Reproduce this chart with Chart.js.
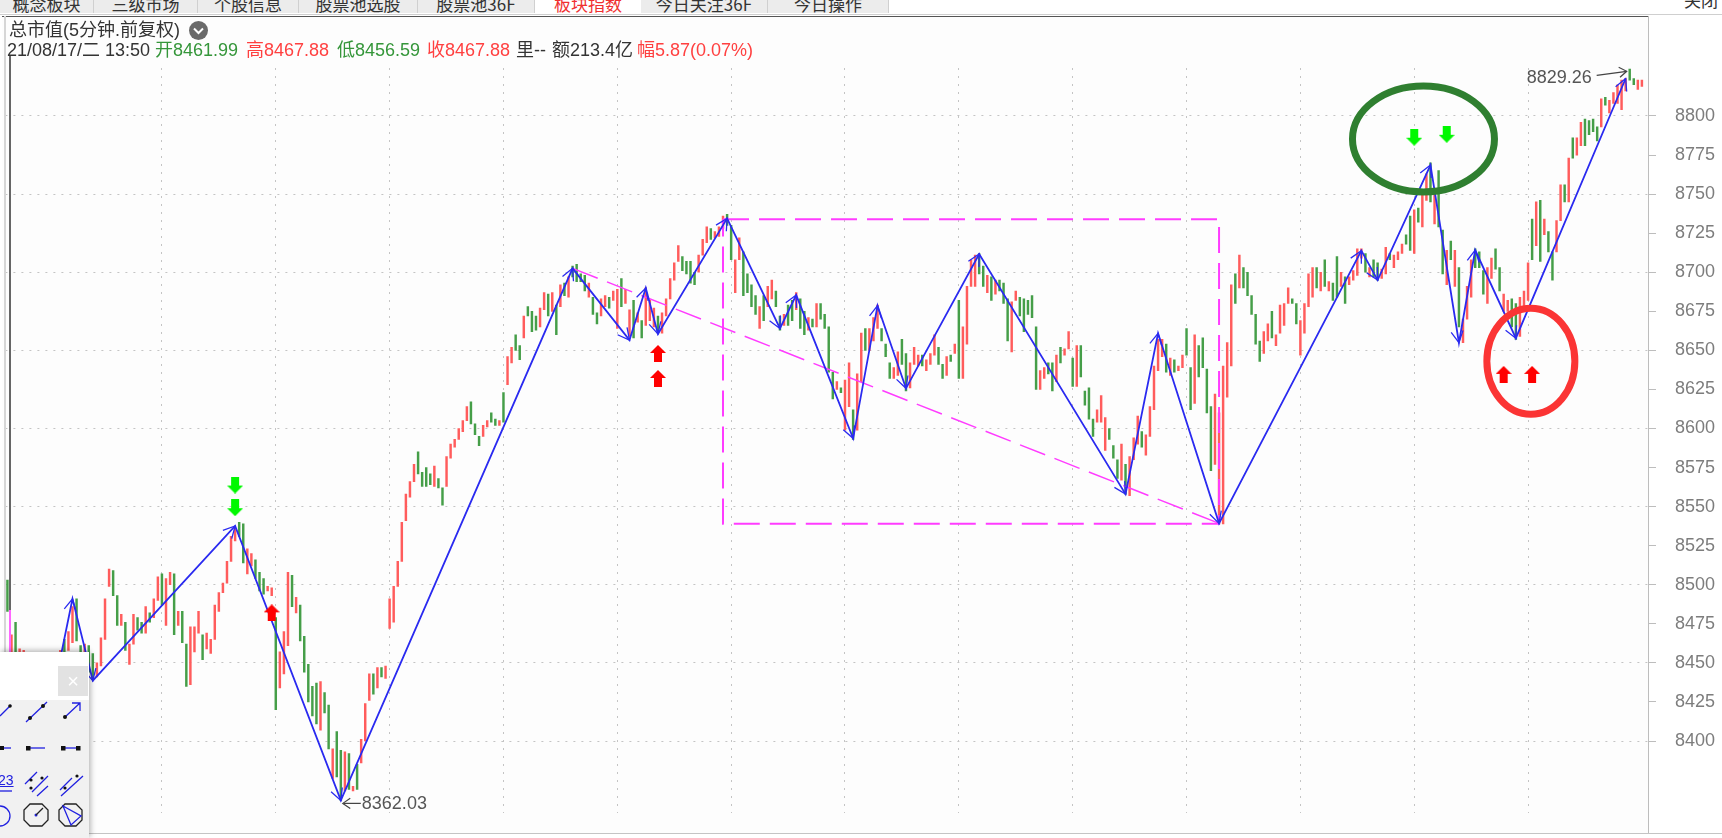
<!DOCTYPE html>
<html lang="zh"><head><meta charset="utf-8">
<script src="https://cdn.jsdelivr.net/npm/chart.js@4"></script>
<style>
html,body{margin:0;padding:0;background:#fff;width:1722px;height:838px;overflow:hidden;font-family:"Liberation Sans","Noto Sans CJK SC",sans-serif}
#wrap{position:relative;width:1722px;height:838px;overflow:hidden}
#plotbg{position:absolute;left:2px;top:16px;width:1646px;height:817px;background:#fdfdfd}
canvas{position:absolute;left:0;top:0}
.abs{position:absolute;white-space:nowrap}
#tabs{position:absolute;left:0;top:0;width:1722px;height:13px;overflow:hidden;background:#fff}
.tab{position:absolute;top:0;height:13px;background:#ececec;border-right:1px solid #d0d0d0;overflow:hidden;color:#333;font-size:17px;text-align:center;line-height:8px;font-family:"Noto Sans CJK SC",sans-serif}
.tab.on{background:#fff;color:#f03030;border-right:none}
.h{font-size:18px;line-height:20px;color:#333}
.g{color:#35963a}.r{color:#ff4040}
#panel{position:absolute;left:0;top:652px;width:89px;height:186px;background:#fff;box-shadow:0 -2px 6px rgba(0,0,0,.18),2px 0 6px rgba(0,0,0,.18)}
</style></head><body>
<div id="wrap">
<div id="plotbg"></div>
<canvas id="c" width="1722" height="838"></canvas>
<div id="tabs">
<div class="tab" style="left:0;width:93px">概念板块</div>
<div class="tab" style="left:94px;width:103px">三级市场</div>
<div class="tab" style="left:198px;width:100px">个股信息</div>
<div class="tab" style="left:299px;width:118px">股票池选股</div>
<div class="tab" style="left:418px;width:116px">股票池36F</div>
<div class="tab on" style="left:535px;width:106px">板块指数</div>
<div class="tab" style="left:641px;width:126px">今日关注36F</div>
<div class="tab" style="left:768px;width:120px">今日操作</div>
<div class="abs" style="left:1684px;top:-8px;font-size:17px;color:#333;line-height:20px">关闭</div>
</div>
<div class="abs" style="left:0;top:14px;width:1722px;height:1px;background:#cfcfcf"></div>
<div class="abs" style="left:2px;top:16px;width:1646px;height:1px;background:#555"></div>
<div class="abs" style="left:1648px;top:16px;width:1px;height:817px;background:#bdbdbd"></div>
<div class="abs" style="left:0;top:833px;width:1722px;height:1px;background:#c4c4c4"></div>
<div class="abs" style="left:4px;top:16px;width:2px;height:636px;background:#d6d6d6"></div>
<div class="abs" style="left:9px;top:55px;width:2px;height:555px;background:#666"></div>
<div class="abs" style="left:9px;top:610px;width:2px;height:43px;background:#ff66ff"></div>
<div class="abs h" style="left:9px;top:20px">总市值(5分钟.前复权)</div>
<svg class="abs" style="left:188px;top:20px" width="21" height="21"><circle cx="10.5" cy="10.5" r="9.5" fill="#6a6a6a"/><path d="M6 8.5l4.5 4.5 4.5-4.5" stroke="#fff" stroke-width="2" fill="none"/></svg>
<div class="abs h" style="left:7px;top:40px">21/08/17/二 13:50</div>
<div class="abs h g" style="left:155px;top:40px">开8461.99</div>
<div class="abs h r" style="left:246px;top:40px">高8467.88</div>
<div class="abs h g" style="left:337px;top:40px">低8456.59</div>
<div class="abs h r" style="left:427px;top:40px">收8467.88</div>
<div class="abs h" style="left:516px;top:40px">里--</div>
<div class="abs h" style="left:552px;top:40px">额213.4亿</div>
<div class="abs h r" style="left:637px;top:40px">幅5.87(0.07%)</div>
<div id="panel">
<div class="abs" style="left:0;top:48px;width:89px;height:138px;background:#f1f1f1"></div>
<div class="abs" style="left:58px;top:14px;width:30px;height:30px;background:#e2e2e2;color:#fff;font-size:20px;line-height:30px;text-align:center">×</div>
<svg class="abs" style="left:0;top:48px" width="89" height="138" stroke="#2020e0" fill="none" stroke-width="1.3">
<path d="M0 16L11 5"/><path d="M26 22L47 2"/><path d="M65 17L80 3M72 3h8v8"/>
<path d="M0 48h11"/><path d="M28 48h17"/><path d="M63 48h15"/>
<path d="M0 91h12"/><path d="M25 84L37 72M32 92L48 76M37 96L48 86"/><path d="M60 90L72 78M61 96L83 76"/>
<path d="M0 106a10 10 0 0 1 0 20"/>
<g fill="#111" stroke="none"><circle cx="10" cy="6" r="1.8"/><circle cx="30" cy="18" r="2"/><circle cx="43" cy="6" r="2"/><circle cx="65" cy="17" r="2"/>
<rect x="0" y="46" width="4" height="4"/><rect x="26" y="46" width="4.5" height="4.5"/><rect x="61" y="46" width="4.5" height="4.5"/><rect x="76" y="46" width="4.5" height="4.5"/>
<circle cx="31" cy="80" r="1.6"/><circle cx="42" cy="78" r="1.6"/><circle cx="31" cy="88" r="1.6"/><circle cx="65" cy="88" r="1.6"/><circle cx="77" cy="76" r="1.6"/><circle cx="36" cy="115" r="1.5" fill="#2020e0"/></g>
<g transform="translate(0,-11)"><path d="M30 115h12l6 6v10l-6 6H30l-6-6v-10zM36 126l7-7" stroke="#222"/>
<path d="M65 115h11l6 6v10l-6 6H65l-6-6v-10z" stroke="#222"/><path d="M63 117l18 10-10 9z"/></g>
</svg>
<div class="abs" style="left:-2px;top:120px;color:#2020e0;font-size:14px;text-decoration:underline">23</div>
</div>
</div>
<script>
const highs=[
8503,8468,8476,8459,8458,8456,8455,8454,8452,8453,
8455,8456,8456,8458,8465,8470,8486,8491,8461,8462,
8461,8456,8450,8466,8491,8510,8509,8493,8481,8476,
8462,8481,8479,8476,8486,8482,8491,8505,8507,8504,
8508,8507,8483,8483,8462,8473,8473,8483,8468,8469,
8465,8487,8495,8501,8515,8531,8536,8540,8539,8523,
8520,8516,8508,8504,8499,8498,8479,8457,8470,8508,
8506,8492,8487,8467,8449,8435,8437,8438,8431,8423,
8395,8406,8394,8393,8392,8371,8385,8401,8424,8443,
8443,8447,8447,8448,8491,8499,8515,8540,8558,8566,
8577,8585,8572,8575,8571,8576,8568,8562,8582,8590,
8593,8600,8605,8614,8617,8603,8595,8602,8605,8610,
8606,8605,8623,8646,8652,8660,8653,8672,8678,8675,
8672,8677,8687,8686,8687,8679,8692,8693,8697,8704,
8705,8699,8698,8693,8684,8674,8683,8685,8684,8688,
8689,8696,8689,8676,8682,8674,8669,8690,8682,8677,
8672,8674,8683,8696,8706,8717,8710,8707,8707,8700,
8711,8721,8729,8728,8726,8729,8736,8737,8730,8708,
8722,8713,8699,8692,8685,8678,8685,8691,8695,8688,
8672,8673,8679,8682,8687,8683,8675,8671,8670,8680,
8680,8673,8665,8636,8630,8626,8631,8642,8612,8635,
8661,8664,8664,8671,8679,8664,8654,8642,8639,8649,
8657,8648,8642,8652,8647,8647,8644,8648,8660,8652,
8641,8646,8647,8654,8682,8665,8691,8708,8711,8712,
8704,8698,8697,8695,8695,8693,8683,8681,8688,8684,
8683,8682,8685,8665,8637,8639,8642,8642,8647,8652,
8651,8662,8645,8653,8653,8624,8626,8606,8612,8621,
8607,8600,8589,8580,8590,8577,8582,8594,8608,8598,
8596,8614,8640,8657,8657,8654,8645,8644,8640,8647,
8664,8639,8660,8653,8658,8638,8614,8622,8610,8640,
8655,8692,8699,8711,8703,8700,8685,8673,8656,8662,
8667,8675,8660,8679,8680,8690,8683,8680,8669,8680,
8699,8703,8703,8700,8708,8694,8693,8710,8700,8697,
8697,8701,8715,8715,8712,8703,8708,8706,8702,8716,
8712,8711,8713,8718,8724,8736,8740,8741,8750,8763,
8770,8750,8765,8727,8714,8720,8714,8703,8670,8691,
8708,8715,8713,8701,8703,8709,8715,8703,8686,8682,
8683,8680,8684,8688,8706,8734,8745,8746,8734,8726,
8713,8733,8756,8756,8773,8786,8786,8796,8798,8797,
8798,8793,8811,8812,8810,8815,8820,8823,8824,8830,
8824,8823,8823];
const lows=[
8483,8455,8453,8453,8450,8448,8446,8445,8444,8445,
8447,8448,8449,8448,8453,8458,8463,8464,8453,8448,
8444,8440,8441,8448,8465,8499,8493,8474,8474,8458,
8449,8462,8471,8469,8469,8476,8479,8490,8487,8474,
8500,8468,8474,8463,8435,8436,8457,8469,8452,8459,
8456,8465,8483,8495,8501,8515,8528,8531,8514,8507,
8512,8504,8496,8494,8496,8493,8420,8434,8443,8461,
8486,8482,8464,8444,8425,8416,8411,8407,8418,8395,
8376,8377,8362,8368,8369,8368,8369,8386,8400,8426,
8430,8434,8441,8440,8472,8476,8499,8515,8541,8556,
8566,8571,8563,8563,8564,8563,8562,8551,8563,8581,
8588,8593,8598,8605,8603,8596,8589,8595,8601,8604,
8602,8602,8604,8628,8642,8650,8644,8658,8672,8662,
8663,8665,8676,8672,8675,8660,8678,8685,8684,8697,
8694,8694,8688,8684,8673,8667,8672,8678,8677,8682,
8664,8678,8680,8659,8658,8668,8658,8666,8669,8665,
8661,8661,8672,8683,8695,8707,8701,8699,8693,8692,
8700,8711,8719,8721,8722,8723,8728,8730,8708,8687,
8708,8685,8687,8678,8673,8664,8669,8678,8683,8678,
8663,8666,8666,8669,8676,8664,8660,8663,8665,8665,
8670,8664,8636,8619,8625,8623,8599,8614,8593,8599,
8630,8650,8650,8656,8664,8656,8646,8632,8632,8634,
8641,8624,8626,8641,8640,8640,8637,8641,8647,8641,
8632,8634,8643,8648,8632,8632,8654,8691,8691,8699,
8691,8687,8682,8686,8688,8680,8656,8649,8682,8672,
8662,8673,8671,8625,8625,8632,8635,8624,8630,8642,
8647,8651,8627,8627,8633,8615,8606,8595,8604,8604,
8586,8593,8581,8568,8567,8558,8557,8580,8590,8588,
8583,8595,8612,8637,8646,8636,8634,8636,8637,8639,
8647,8612,8616,8633,8639,8610,8573,8577,8539,8539,
8620,8640,8680,8690,8690,8685,8673,8654,8643,8648,
8656,8658,8653,8661,8666,8680,8680,8667,8647,8661,
8678,8684,8690,8688,8691,8688,8682,8684,8691,8680,
8692,8695,8698,8709,8700,8697,8697,8695,8696,8699,
8708,8703,8708,8712,8718,8714,8712,8732,8729,8746,
8745,8731,8729,8699,8692,8708,8691,8665,8655,8670,
8684,8703,8703,8686,8680,8696,8702,8688,8675,8675,
8665,8657,8659,8678,8682,8708,8717,8707,8724,8713,
8695,8713,8733,8745,8745,8773,8775,8781,8781,8788,
8790,8784,8793,8807,8802,8808,8808,8804,8816,8823,
8820,8817,8819];
const directions=("GRGRRGRGRG"+"RRGRGRRGGR"+"GGRRRRGGRG"+"RRGGRGRRGR"+"RGRGGRRRGR"+
"RRRRRRRGGR"+"RGGGRRGRRR"+"GRGGGGGRGG"+"RGGRGRGRRR"+"GRGRRRRRRR"+
"RGGGGRGGRR"+"RRRRGGGRRG"+"GRGRRGGRGG"+"GRRGRGRGRG"+"GGGRGGRRGR"+
"RGRRGRGRRR"+"GRRRRRGGGG"+"RRRGRRRGGR"+"RGGGGRGRRG"+"GRGGRGGRGR"+
"GGGGRGRRGR"+"RGRRRGGGRR"+"GGRRRGRRRG"+"GRGRGRRRRG"+"GRGRGGGRRG"+
"GGGGRRGGRG"+"RRGRGGGGRR"+"RGGGRGRRRG"+"RRRRRGRGRR"+"GGRGGGGRRR"+
"RRGRGGGGGR"+"RGRRRRGGRR"+"RRGRGRGGRG"+"RRRRGRGGRR"+"GRRRGGRGRR"+
"GRGGRGRGRR"+"RGGGRRGGRR"+"GGRRRGRGRG"+"GRRGRGRRGG"+"GGRGRRRRRG"+"GRR").split('');
const categories=Array.from({length:404},(_,i)=>i);
const yTicks=[8400,8425,8450,8475,8500,8525,8550,8575,8600,8625,8650,8675,8700,8725,8750,8775,8800];
const zigzagIndex=[12,16,21,56,82,139,153,157,160,177,190,194,208,214,221,239,275,283,298,333,337,350,357,361,371,398];
const zigzagValue=[8440,8491,8438.6,8537.6,8362,8702.5,8656.6,8689.9,8660.5,8734.5,8664,8685.4,8593.7,8678.6,8625.7,8711.7,8558,8660.9,8539.3,8713.8,8695,8768.6,8654.9,8714.2,8657.8,8824];
const trendIndex=[139,298];
const trendValue=[8702.5,8539.3];
const boxIndex=[176,298,298,176,176];
const boxValue=[8734,8734,8539,8539,8734];
const sellIndex=[56,56,346,354];
const sellValue=[8563.8,8549.3,8786.4,8788.3];
const buyIndex=[65,160,160,368,375];
const buyValue=[8482,8648,8632,8634.6,8634.6];

const RED='#ff5c5c',GREEN='#459e48',BLUE='#2a2af0',MAG='#ff3cff';
function pts(xs,ys){return xs.map((x,i)=>({x:x,y:ys[i]}));}
function arrowImg(color,up){
  const c=document.createElement('canvas');c.width=16;c.height=17;
  const g=c.getContext('2d');g.fillStyle=color;g.beginPath();
  const P=up?[[8,0],[16,8],[12,8],[12,17],[4,17],[4,8],[0,8]]:[[8,17],[16,9],[12,9],[12,0],[4,0],[4,9],[0,9]];
  P.forEach((p,i)=>i?g.lineTo(p[0],p[1]):g.moveTo(p[0],p[1]));g.closePath();g.fill();return c;
}
function barb(ctx,x0,y0,x1,y1,len,spread){
  const a=Math.atan2(y1-y0,x1-x0);
  ctx.beginPath();
  ctx.moveTo(x1-len*Math.cos(a-spread),y1-len*Math.sin(a-spread));
  ctx.lineTo(x1,y1);
  ctx.lineTo(x1-len*Math.cos(a+spread),y1-len*Math.sin(a+spread));
  ctx.stroke();
}
const overlay={id:'overlay',afterDatasetsDraw(chart){
  const ctx=chart.ctx,X=chart.scales.x,Y=chart.scales.y;
  const px=i=>X.getPixelForValue(i),py=v=>Y.getPixelForValue(v);
  ctx.save();
  ctx.strokeStyle=BLUE;ctx.lineWidth=1.3;
  for(let k=1;k<zigzagIndex.length;k++){
    barb(ctx,px(zigzagIndex[k-1]),py(zigzagValue[k-1]),px(zigzagIndex[k]),py(zigzagValue[k]),13,0.48);
  }
  ctx.lineWidth=7;ctx.strokeStyle='#2f7f30';
  ctx.beginPath();ctx.ellipse(px(350)-7,py(8769)-25.5,71,53,0,0,Math.PI*2);ctx.stroke();
  ctx.strokeStyle='#fb3434';
  ctx.beginPath();ctx.ellipse(px(371)+15,py(8657.8)+23,44,53,0,0,Math.PI*2);ctx.stroke();
  ctx.font='18px "Liberation Sans",sans-serif';ctx.fillStyle='#555';ctx.textBaseline='middle';ctx.textAlign='left';
  const lx=px(82),ly=py(8362);
  ctx.fillText('8362.03',lx+21,ly+4);
  ctx.strokeStyle='#444';ctx.lineWidth=1.2;
  ctx.beginPath();ctx.moveTo(lx+20,ly+3);ctx.lineTo(lx+3,ly+3);ctx.stroke();
  barb(ctx,lx+20,ly+3,lx+2,ly+3,9,0.6);
  const hx=px(399),hy=py(8829.26);
  ctx.fillText('8829.26',hx-103,hy+8);
  ctx.beginPath();ctx.moveTo(hx-33,hy+5);ctx.lineTo(hx-3,hy+1);ctx.stroke();
  barb(ctx,hx-33,hy+5,hx-3,hy+1,9,0.6);
  ctx.restore();
}};
new Chart(document.getElementById('c'),{
  data:{labels:categories,datasets:[
    {type:'line',label:'卖出',data:pts(sellIndex,sellValue),showLine:false,pointStyle:arrowImg('#00f800',false),pointRadius:8,order:0},
    {type:'line',label:'买入',data:pts(buyIndex,buyValue),showLine:false,pointStyle:arrowImg('#ff0000',true),pointRadius:8,order:0},
    {type:'line',label:'波段',data:pts(zigzagIndex,zigzagValue),borderColor:BLUE,borderWidth:1.8,pointRadius:0,tension:0,fill:false,order:1},
    {type:'line',label:'趋势',data:pts(trendIndex,trendValue),borderColor:MAG,borderWidth:1.5,borderDash:[27,10],pointRadius:0,tension:0,fill:false,order:2},
    {type:'line',label:'区间',data:pts(boxIndex,boxValue),borderColor:MAG,borderWidth:2,borderDash:[26,10],pointRadius:0,tension:0,fill:false,order:2},
    {type:'bar',label:'总市值',data:highs.map((h,i)=>[lows[i],h]),
     backgroundColor:directions.map(d=>d==='R'?RED:GREEN),barThickness:1.8,grouped:false,order:3}
  ]},
  options:{
    responsive:false,animation:false,devicePixelRatio:1,
    layout:{autoPadding:false,padding:{left:5.4,right:0,top:68,bottom:25}},
    plugins:{legend:{display:false},title:{display:false},tooltip:{enabled:false}},
    scales:{
      x:{type:'category',offset:true,border:{display:false,dash:[2,6]},
        ticks:{display:false,autoSkip:false},
        grid:{offset:false,drawTicks:false,lineWidth:1,
          color:c=>{const i=c.index;return (i>=38&&i<=374&&(i-38)%28===0)?'#c4c4c4':'rgba(0,0,0,0)';}}},
      y:{type:'linear',position:'right',min:8353.92,max:8830.72,
        border:{display:false,dash:[2,6]},
        afterFit(s){s.width=74;s.paddingTop=0;s.paddingBottom=0;},
        afterBuildTicks(s){s.ticks=yTicks.map(v=>({value:v}));},
        ticks:{color:'#7d7d7d',padding:19,crossAlign:'near',font:{size:18,family:'"Liberation Sans",sans-serif'},callback:v=>String(v)},
        grid:{drawTicks:true,tickLength:8,tickColor:'#bdbdbd',tickBorderDash:[],lineWidth:1,
          color:c=>(c.tick&&(c.tick.value%50===0))?'#c4c4c4':'rgba(0,0,0,0)'}}
    }
  },
  plugins:[overlay]
});
</script>
</body></html>
